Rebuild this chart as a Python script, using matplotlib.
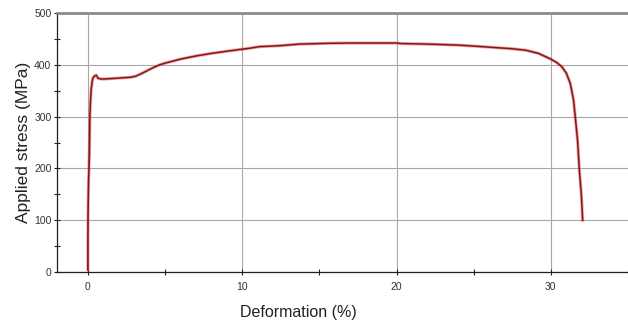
import matplotlib
matplotlib.use("Agg")
import matplotlib.pyplot as plt
from matplotlib.ticker import MultipleLocator

# strain (%) and stress (MPa)
strain = [0.0, 0.0, 0.01, 0.03, 0.05, 0.07, 0.10, 0.13, 0.17, 0.21, 0.27, 0.32, 0.42,
          0.54, 0.66, 0.87, 1.3, 1.8, 2.3, 2.8, 3.1, 3.4, 3.8, 4.2, 4.65, 5.1, 6.0,
          7.0, 8.0, 9.2, 10.5, 11.1, 12.5, 13.7, 15.6, 17.0, 18.5, 20.0, 20.3,
          22.0, 24.0, 25.1, 26.5, 27.5, 28.4, 29.2, 30.0, 30.4, 30.72, 31.0,
          31.26, 31.47, 31.58, 31.73, 31.84, 31.97, 32.02, 32.06]
stress = [4, 60, 110, 150, 180, 197, 230, 300, 330, 351, 366, 374, 378,
          380, 374, 372.5, 373, 374, 375, 376, 378, 382, 388, 394, 400, 404, 411,
          417, 422, 427, 432, 435, 437, 440, 441.5, 442, 442, 442, 441,
          440, 438, 436, 433, 431, 428, 422, 411, 404, 396, 384,
          364, 332, 300, 255, 200, 152, 125, 100]

x_limits = (-2, 35)
y_limits = (0, 500)

plt.rcParams["font.family"] = ["Liberation Sans", "DejaVu Sans"]

fig = plt.figure(figsize=(6.28, 3.22), dpi=100)
ax = fig.add_axes([57 / 628, 50 / 322, 571 / 628, 259 / 322])

ax.plot(strain, stress, color="#e04848", linewidth=2.3, alpha=0.5)
ax.plot(strain, stress, color="#861616", linewidth=1.1)

ax.set_xlim(*x_limits)
ax.set_ylim(*y_limits)
ax.xaxis.set_major_locator(MultipleLocator(10))
ax.xaxis.set_minor_locator(MultipleLocator(5))
ax.yaxis.set_major_locator(MultipleLocator(100))
ax.yaxis.set_minor_locator(MultipleLocator(50))

ax.grid(True, which="major", color="#a8a8a8", linewidth=0.8)
ax.set_axisbelow(True)

ax.spines["right"].set_visible(False)
ax.spines["top"].set_color("#8a8a8a")
ax.spines["top"].set_linewidth(2.0)
ax.spines["left"].set_color("#202020")
ax.spines["bottom"].set_color("#202020")
ax.spines["left"].set_linewidth(0.9)
ax.spines["bottom"].set_linewidth(0.9)

ax.tick_params(which="both", direction="inout", length=4, width=0.8, color="#202020",
               labelsize=7.5, labelcolor="#333333", top=False, right=False)
ax.tick_params(axis="y", which="major", pad=2)
ax.tick_params(axis="x", which="major", pad=5)

ax.set_xlabel("Deformation (%)", fontsize=11.5, color="#222222")
ax.xaxis.set_label_coords((298 - 57) / 571, -(312 - 272) / 259)
ax.xaxis.label.set_va("center")
ax.set_ylabel("Applied stress (MPa)", fontsize=12.5, color="#222222")
ax.yaxis.set_label_coords(-(57 - 24) / 571, 0.5)
ax.yaxis.label.set_va("center")

fig.savefig("out.png", dpi=100)
